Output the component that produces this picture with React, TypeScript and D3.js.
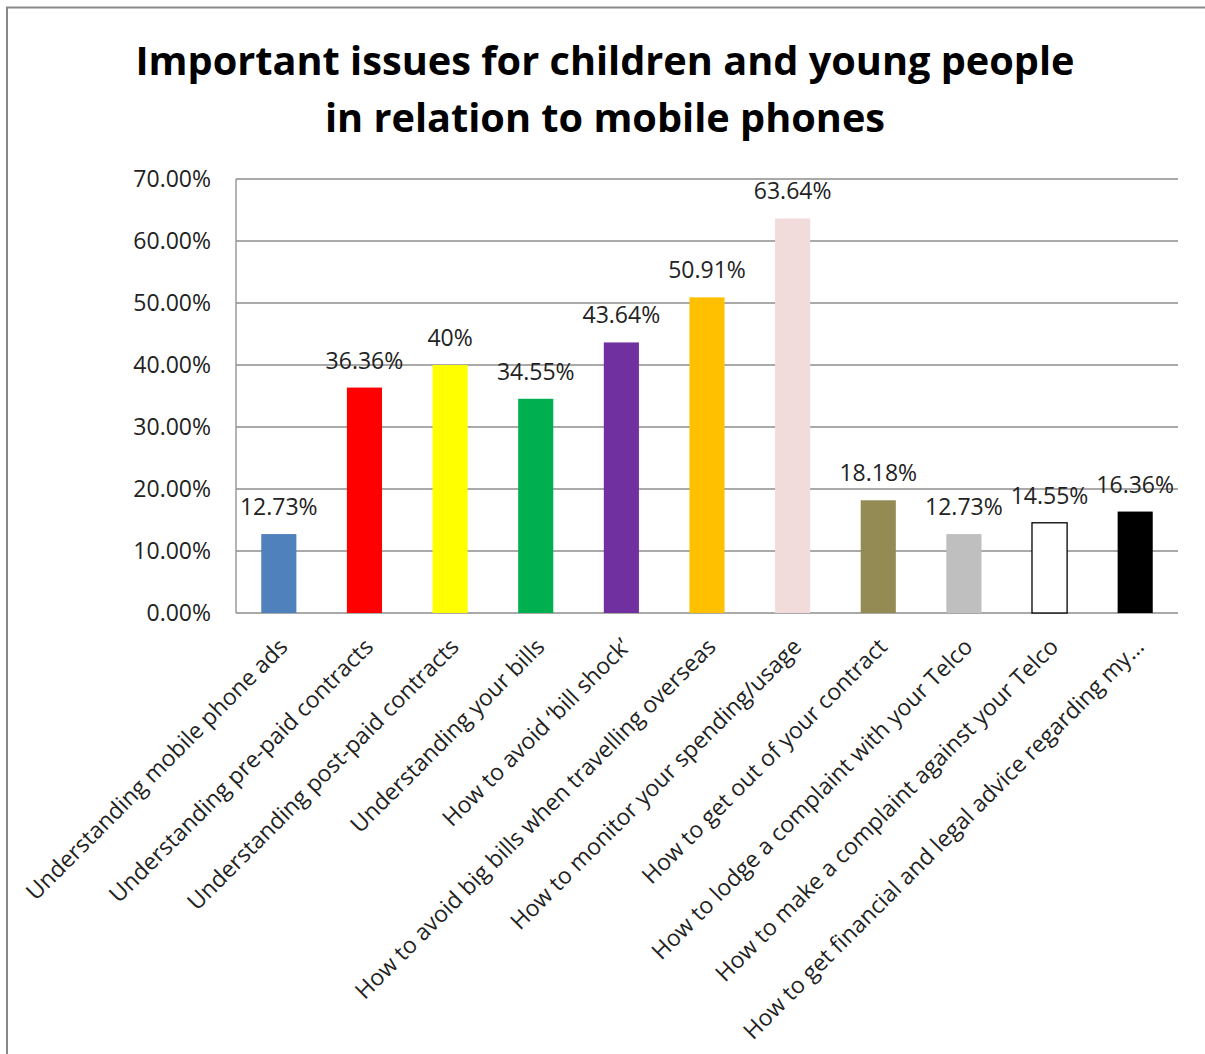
import React from "react";
import * as d3 from "d3";

const categories = [
  "Understanding mobile phone ads",
  "Understanding pre-paid contracts",
  "Understanding post-paid contracts",
  "Understanding your bills",
  "How to avoid \u2018bill shock\u2019",
  "How to avoid big bills when travelling overseas",
  "How to monitor your spending/usage",
  "How to get out of your contract",
  "How to lodge a complaint with your Telco",
  "How to make a complaint against your Telco",
  "How to get financial and legal advice regarding my\u2026",
];
const values = [12.73, 36.36, 40, 34.55, 43.64, 50.91, 63.64, 18.18, 12.73, 14.55, 16.36];
const valueLabels = ["12.73%", "36.36%", "40%", "34.55%", "43.64%", "50.91%", "63.64%", "18.18%", "12.73%", "14.55%", "16.36%"];
const barColors = ["#4F81BD", "#FF0000", "#FFFF00", "#00B050", "#7030A0", "#FFC000", "#F2DCDB", "#948A54", "#BFBFBF", "#FFFFFF", "#000000"];
const yTicks = [0, 10, 20, 30, 40, 50, 60, 70];
const yTickLabels = ["0.00%", "10.00%", "20.00%", "30.00%", "40.00%", "50.00%", "60.00%", "70.00%"];
const titleLines = ["Important issues for children and young people", "in relation to mobile phones"];

const W = 1205;
const H = 1054;
const plot = { left: 236, right: 1178, top: 179, bottom: 613 };
const FONT = "'Open Sans', 'Noto Sans', sans-serif";

export default function App() {
  const x = d3.scaleBand<string>().domain(categories).range([plot.left, plot.right]).paddingInner(0.59).paddingOuter(0.295);
  const y = d3.scaleLinear().domain([0, 70]).range([plot.bottom, plot.top]);
  const grid = "#8C8C8C";
  return (
    <svg width={W} height={H} style={{ position: "absolute", left: 0, top: 0, background: "#fff" }}>
      <rect x={7} y={7.5} width={W + 10} height={H + 10} fill="#fff" stroke="#888" strokeWidth={2} />
      {titleLines.map((t, i) => (
        <text key={i} x={605} y={75 + i * 57} textAnchor="middle" fontFamily={FONT} fontWeight="bold" fontSize={39.7} fill="#000">
          {t}
        </text>
      ))}
      {yTicks.map((t, i) => (
        <g key={t}>
          <line x1={plot.left} x2={plot.right} y1={y(t)} y2={y(t)} stroke={grid} strokeWidth={1.3} />
          <text x={211} y={y(t)} dy="0.36em" textAnchor="end" fontFamily={FONT} fontSize={23} fill="#222">
            {yTickLabels[i]}
          </text>
        </g>
      ))}
      <line x1={plot.left} x2={plot.left} y1={plot.top} y2={plot.bottom} stroke={grid} strokeWidth={1.3} />
      {categories.map((c, i) => (
        <rect
          key={c}
          x={x(c)}
          y={y(values[i])}
          width={x.bandwidth()}
          height={y(0) - y(values[i])}
          fill={barColors[i]}
          stroke={barColors[i] === "#FFFFFF" ? "#000" : "none"}
          strokeWidth={1.3}
        />
      ))}
      {categories.map((c, i) => (
        <text key={c} x={(x(c) as number) + x.bandwidth() / 2} y={y(values[i]) - 19} textAnchor="middle" fontFamily={FONT} fontSize={23} fill="#222">
          {valueLabels[i]}
        </text>
      ))}
      {categories.map((c) => {
        const cx = (x(c) as number) + x.bandwidth() / 2;
        return (
          <text key={c} transform={`translate(${cx - 2},636) rotate(-45)`} dy="0.75em" textAnchor="end" fontFamily={FONT} fontSize={23} fill="#222">
            {c}
          </text>
        );
      })}
    </svg>
  );
}
